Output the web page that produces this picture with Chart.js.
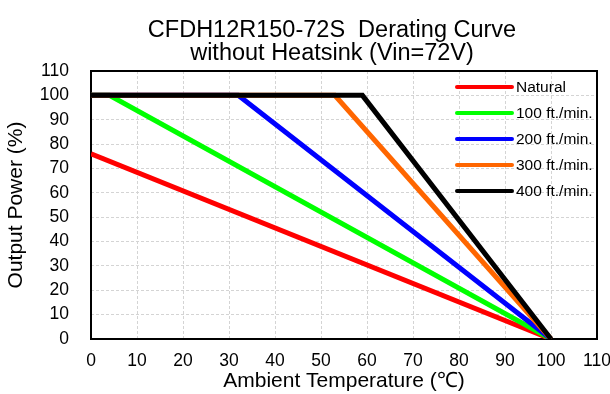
<!DOCTYPE html>
<html>
<head>
<meta charset="utf-8">
<script src="https://cdn.jsdelivr.net/npm/chart.js@4/dist/chart.umd.min.js"></script>
<style>
  html, body { margin: 0; padding: 0; background: #fff; }
  #wrap { width: 610px; height: 394px; }
</style>
</head>
<body>
<div id="wrap"><canvas id="derating"></canvas></div>
<script>
// Derating curves (x = ambient temp in C, y = output power %)
const chartTitle = ['CFDH12R150-72S  Derating Curve', 'without Heatsink (Vin=72V)'];
const seriesNames = ['Natural', '100 ft./min.', '200 ft./min.', '300 ft./min.', '400 ft./min.'];
const seriesColors = ['#ff0000', '#00ff00', '#0000ff', '#ff6600', '#000000'];

const naturalX = [0, 100];
const naturalY = [76, 0];
const lfm100X = [0, 4, 100];
const lfm100Y = [100, 100, 0];
const lfm200X = [0, 32, 100];
const lfm200Y = [100, 100, 0];
const lfm300X = [0, 53, 100];
const lfm300Y = [100, 100, 0];
const lfm400X = [0, 59, 100];
const lfm400Y = [100, 100, 0];

const xTicks = [0, 10, 20, 30, 40, 50, 60, 70, 80, 90, 100, 110];
const yTicks = [0, 10, 20, 30, 40, 50, 60, 70, 80, 90, 100, 110];

const seriesX = [naturalX, lfm100X, lfm200X, lfm300X, lfm400X];
const seriesY = [naturalY, lfm100Y, lfm200Y, lfm300Y, lfm400Y];

const toPoints = (xs, ys) => xs.map((x, i) => ({ x: x, y: ys[i] }));

const FONT = "'Liberation Sans', Arial, sans-serif";

const datasets = seriesNames.map((name, i) => ({
    label: name,
    data: toPoints(seriesX[i], seriesY[i]),
    borderColor: seriesColors[i],
    backgroundColor: seriesColors[i],
    borderWidth: 5,
    pointRadius: 0,
    tension: 0,
    fill: false,
    // black (last) drawn on top
    order: seriesNames.length - i,
}));

// plot frame, legend inside chart area, two-line title
const framePlugin = {
    id: 'frame',
    beforeDatasetsDraw(chart) {
        const { ctx, chartArea: a } = chart;
        ctx.save();
        ctx.strokeStyle = '#000';
        ctx.lineWidth = 2;
        ctx.strokeRect(a.left, a.top, a.right - a.left, a.bottom - a.top);
        ctx.restore();
    },
    afterDatasetsDraw(chart) {
        const { ctx } = chart;
        const x0 = 457, x1 = 512, y0 = 87, dy = 26;
        ctx.save();
        ctx.font = '15.5px ' + FONT;
        ctx.textBaseline = 'middle';
        ctx.textAlign = 'left';
        chart.data.datasets.forEach((ds, i) => {
            const y = y0 + i * dy;
            ctx.strokeStyle = ds.borderColor;
            ctx.lineWidth = 4;
            ctx.lineCap = 'round';
            ctx.beginPath();
            ctx.moveTo(x0, y);
            ctx.lineTo(x1, y);
            ctx.stroke();
            ctx.fillStyle = '#000';
            ctx.fillText(ds.label, x1 + 4, y + 1);
        });
        ctx.restore();
    },
    afterDraw(chart) {
        const { ctx } = chart;
        ctx.save();
        ctx.font = '23.5px ' + FONT;
        ctx.fillStyle = '#000';
        ctx.textAlign = 'center';
        ctx.textBaseline = 'alphabetic';
        ctx.fillText(chartTitle[0], 332, 36.5);
        ctx.fillText(chartTitle[1], 332, 60);
        ctx.restore();
    }
};

const noPad = (scale) => {
    scale.paddingLeft = 0;
    scale.paddingRight = 0;
    scale.paddingTop = 0;
    scale.paddingBottom = 0;
};

new Chart(document.getElementById('derating'), {
    type: 'line',
    data: { datasets: datasets },
    options: {
        animation: false,
        responsive: true,
        maintainAspectRatio: false,
        layout: { padding: { left: 0, right: 13, top: 71, bottom: 0 } },
        plugins: {
            legend: { display: false },
            tooltip: { enabled: false },
            title: { display: false },
        },
        scales: {
            x: {
                type: 'linear',
                min: 0,
                max: 110,
                afterFit(scale) { scale.height = 55; noPad(scale); },
                afterBuildTicks(scale) { scale.ticks = xTicks.map(v => ({ value: v })); },
                grid: { color: '#d4d4d4', lineWidth: 1, drawTicks: false },
                border: { display: false, dash: [3, 2] },
                ticks: {
                    color: '#000',
                    padding: 12,
                    maxRotation: 0,
                    autoSkip: false,
                    font: { family: FONT, size: 17.5 },
                },
                title: {
                    display: true,
                    text: 'Ambient Temperature (℃)',
                    color: '#000',
                    font: { family: FONT, size: 21 },
                    padding: { top: 0, bottom: 0 },
                },
            },
            y: {
                type: 'linear',
                min: 0,
                max: 110,
                afterFit(scale) { scale.width = 91; noPad(scale); },
                afterBuildTicks(scale) { scale.ticks = yTicks.map(v => ({ value: v })); },
                grid: { color: '#d4d4d4', lineWidth: 1, drawTicks: false },
                border: { display: false, dash: [3, 2] },
                ticks: {
                    color: '#000',
                    padding: 22,
                    autoSkip: false,
                    font: { family: FONT, size: 17.5 },
                },
                title: {
                    display: true,
                    text: 'Output Power (%)',
                    color: '#000',
                    font: { family: FONT, size: 21 },
                    padding: { top: 4, bottom: 0 },
                },
            },
        },
    },
    plugins: [framePlugin],
});
</script>
</body>
</html>
